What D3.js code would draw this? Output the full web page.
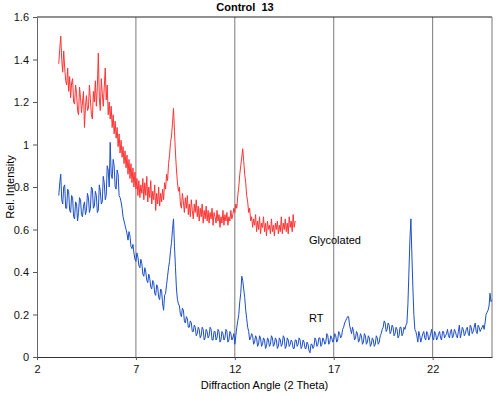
<!DOCTYPE html>
<html>
<head>
<meta charset="utf-8">
<title>Control 13</title>
<script src="https://d3js.org/d3.v7.min.js"></script>
<style>
body { margin:0; background:#fff; }
text { font-family: "Liberation Sans", Arial, sans-serif; }
</style>
</head>
<body>
<script>
// sampling grid of both scans (2 theta), one row below = 0.5 deg
var xStart = 3.1;
var xStep = 0.05;
var xTicks = [2, 7, 12, 17, 22];
var yTicks = [0, 0.2, 0.4, 0.6, 0.8, 1, 1.2, 1.4, 1.6];
var gridLines = [7, 12, 17, 22];

// Glycolated (red), 3.10 .. 15.05
var glycolated = [
 1.38,1.45,1.51,1.40,1.34,1.44,1.36,1.30,1.28,1.36,
 1.25,1.32,1.22,1.29,1.31,1.20,1.19,1.28,1.24,1.16,
 1.14,1.27,1.22,1.15,1.20,1.25,1.08,1.18,1.23,1.16,
 1.17,1.28,1.21,1.14,1.12,1.25,1.20,1.30,1.18,1.27,
 1.43,1.22,1.16,1.31,1.24,1.18,1.27,1.36,1.21,1.28,
 1.14,1.20,1.12,1.18,1.08,1.14,1.05,1.11,1.03,1.08,
 0.99,1.05,0.96,1.02,0.94,0.99,0.91,0.97,0.89,0.95,
 0.86,0.93,0.84,0.91,0.82,0.89,0.80,0.87,0.79,0.84,
 0.76,0.83,0.75,0.81,0.77,0.84,0.74,0.82,0.76,0.85,
 0.73,0.80,0.75,0.83,0.72,0.78,0.74,0.81,0.69,0.77,
 0.72,0.80,0.71,0.77,0.73,0.79,0.74,0.82,0.79,0.86,
 0.83,0.91,0.95,1.01,1.04,1.10,1.17,1.06,0.96,0.88,
 0.82,0.78,0.80,0.72,0.70,0.77,0.73,0.68,0.75,0.70,
 0.76,0.67,0.72,0.66,0.74,0.69,0.65,0.72,0.68,0.74,
 0.66,0.71,0.64,0.70,0.66,0.72,0.63,0.69,0.65,0.71,
 0.64,0.69,0.63,0.68,0.65,0.70,0.62,0.68,0.66,0.63,
 0.69,0.64,0.67,0.61,0.66,0.63,0.69,0.62,0.67,0.64,
 0.68,0.62,0.66,0.64,0.69,0.65,0.67,0.70,0.68,0.72,
 0.70,0.76,0.80,0.86,0.90,0.94,0.98,0.92,0.86,0.82,
 0.76,0.73,0.68,0.70,0.64,0.66,0.61,0.65,0.62,0.67,
 0.59,0.64,0.60,0.66,0.58,0.63,0.61,0.66,0.59,0.63,
 0.57,0.64,0.60,0.62,0.58,0.65,0.59,0.62,0.57,0.63,
 0.60,0.64,0.58,0.62,0.59,0.66,0.58,0.63,0.60,0.65,
 0.59,0.63,0.58,0.66,0.61,0.64,0.59,0.67,0.61,0.64
];

// RT (blue), 3.10 .. 25.00
var rt = [
 0.76,0.82,0.86,0.74,0.72,0.80,0.81,0.70,0.70,0.79,
 0.78,0.69,0.68,0.76,0.75,0.66,0.65,0.73,0.72,0.64,
 0.68,0.75,0.74,0.67,0.66,0.71,0.73,0.67,0.69,0.77,
 0.75,0.68,0.70,0.80,0.79,0.70,0.71,0.78,0.76,0.68,
 0.69,0.81,0.78,0.72,0.73,0.85,0.82,0.74,0.76,0.90,
 0.88,0.80,1.01,0.86,0.84,0.93,0.90,0.80,0.79,0.88,
 0.86,0.76,0.75,0.73,0.70,0.66,0.64,0.62,0.60,0.58,
 0.55,0.59,0.57,0.52,0.51,0.53,0.49,0.46,0.45,0.49,
 0.47,0.43,0.42,0.46,0.44,0.39,0.38,0.42,0.40,0.36,
 0.35,0.39,0.37,0.33,0.32,0.36,0.35,0.30,0.29,0.34,
 0.33,0.28,0.27,0.32,0.31,0.25,0.22,0.29,0.30,0.34,
 0.38,0.42,0.45,0.50,0.54,0.60,0.65,0.52,0.42,0.32,
 0.27,0.25,0.24,0.20,0.19,0.23,0.22,0.17,0.16,0.19,
 0.18,0.14,0.14,0.17,0.16,0.12,0.12,0.15,0.14,0.10,
 0.11,0.14,0.13,0.09,0.10,0.14,0.13,0.08,0.09,0.13,
 0.12,0.09,0.10,0.14,0.13,0.08,0.08,0.12,0.12,0.08,
 0.09,0.13,0.12,0.07,0.08,0.12,0.11,0.08,0.09,0.13,
 0.12,0.07,0.08,0.12,0.11,0.08,0.09,0.11,0.06,0.10,
 0.14,0.17,0.20,0.26,0.30,0.38,0.36,0.32,0.28,0.22,
 0.18,0.14,0.12,0.08,0.09,0.11,0.10,0.06,0.07,0.10,
 0.09,0.05,0.06,0.10,0.09,0.05,0.06,0.09,0.08,0.04,
 0.05,0.09,0.08,0.05,0.06,0.10,0.09,0.05,0.06,0.09,
 0.08,0.04,0.05,0.09,0.08,0.05,0.06,0.10,0.09,0.04,
 0.05,0.09,0.08,0.05,0.06,0.08,0.07,0.04,0.04,0.08,
 0.08,0.05,0.06,0.09,0.08,0.04,0.05,0.08,0.07,0.04,
 0.04,0.07,0.06,0.03,0.02,0.06,0.06,0.04,0.05,0.09,
 0.08,0.05,0.06,0.09,0.09,0.05,0.06,0.09,0.08,0.06,
 0.07,0.11,0.10,0.06,0.07,0.10,0.09,0.07,0.08,0.11,
 0.10,0.07,0.08,0.12,0.11,0.09,0.10,0.13,0.14,0.16,
 0.17,0.18,0.19,0.19,0.15,0.13,0.11,0.14,0.12,0.08,
 0.09,0.12,0.11,0.07,0.08,0.11,0.10,0.06,0.07,0.11,
 0.10,0.06,0.07,0.10,0.09,0.05,0.06,0.09,0.08,0.05,
 0.06,0.10,0.09,0.06,0.07,0.10,0.11,0.13,0.14,0.17,
 0.16,0.12,0.13,0.16,0.15,0.11,0.12,0.15,0.14,0.10,
 0.11,0.14,0.13,0.09,0.10,0.14,0.14,0.10,0.11,0.14,
 0.13,0.15,0.16,0.25,0.40,0.55,0.65,0.48,0.33,0.20,
 0.13,0.12,0.10,0.07,0.12,0.10,0.07,0.09,0.11,0.12,
 0.09,0.08,0.12,0.11,0.08,0.09,0.11,0.13,0.09,0.08,
 0.12,0.11,0.08,0.09,0.11,0.12,0.09,0.08,0.12,0.12,
 0.09,0.10,0.11,0.13,0.10,0.09,0.12,0.13,0.09,0.10,
 0.13,0.12,0.10,0.09,0.12,0.15,0.09,0.11,0.14,0.13,
 0.10,0.11,0.13,0.14,0.11,0.10,0.15,0.14,0.11,0.12,
 0.14,0.16,0.12,0.11,0.15,0.14,0.12,0.13,0.14,0.15,
 0.13,0.16,0.20,0.21,0.22,0.24,0.30,0.26,0.27
];

var width = 500, height = 396;
var margin = {top:17, right:8, bottom:39, left:37};
var w = width - margin.left - margin.right;
var h = height - margin.top - margin.bottom;

var svg = d3.select('body').append('svg').attr('width', width).attr('height', height);
var g = svg.append('g').attr('transform', 'translate(' + margin.left + ',' + margin.top + ')');

var x = d3.scaleLinear().domain([2, 25]).range([0, w]);
var y = d3.scaleLinear().domain([0, 1.6]).range([h, 0]);

// vertical grid lines
g.selectAll('.grid').data(gridLines).enter().append('line')
  .attr('x1', d => x(d)).attr('x2', d => x(d))
  .attr('y1', 0).attr('y2', h)
  .attr('stroke', '#7a7a7a').attr('stroke-width', 1);

var line = d3.line()
  .x((d, i) => x(xStart + i * xStep))
  .y(d => y(d));

g.append('path').datum(glycolated).attr('d', line)
  .attr('fill', 'none').attr('stroke', '#ff3434').attr('stroke-width', 1);
g.append('path').datum(rt).attr('d', line)
  .attr('fill', 'none').attr('stroke', '#1c4fc8').attr('stroke-width', 1);

// frame
g.append('line').attr('x1', 0).attr('x2', w).attr('y1', 0).attr('y2', 0).attr('stroke', '#222');
g.append('line').attr('x1', w).attr('x2', w).attr('y1', 0).attr('y2', h).attr('stroke', '#777');

var xAxis = g.append('g').attr('transform', 'translate(0,' + h + ')')
  .call(d3.axisBottom(x).tickValues(xTicks).tickSize(3).tickSizeOuter(0).tickFormat(d3.format('d')));
var yAxis = g.append('g')
  .call(d3.axisLeft(y).tickValues(yTicks).tickSize(4).tickSizeOuter(0).tickFormat(d => String(d)));

[xAxis, yAxis].forEach(function(a) {
  a.selectAll('text').attr('font-size', 11).attr('fill', '#111').style('font-family', '"Liberation Sans", Arial, sans-serif');
  a.selectAll('line').attr('stroke', '#555');
});
xAxis.select('.domain').attr('stroke', '#333');
yAxis.select('.domain').attr('stroke', '#666');
xAxis.selectAll('text').attr('dy', '0.95em');
yAxis.selectAll('text').attr('dx', '-1');

// series labels
g.append('text').attr('x', x(15.75)).attr('y', y(0.53)).attr('font-size', 11).text('Glycolated');
g.append('text').attr('x', x(15.75)).attr('y', y(0.163)).attr('font-size', 11).text('RT');

// titles
svg.append('text').attr('x', 245).attr('y', 11).attr('text-anchor', 'middle')
  .attr('font-size', 11).attr('font-weight', 'bold').style('white-space', 'pre').text('Control  13');
svg.append('text').attr('x', margin.left + w / 2).attr('y', 389).attr('text-anchor', 'middle')
  .attr('font-size', 11).text('Diffraction Angle (2 Theta)');
svg.append('text').attr('transform', 'translate(14,' + (margin.top + h / 2) + ') rotate(-90)')
  .attr('text-anchor', 'middle').attr('font-size', 11).text('Rel. Intensity');
</script>
</body>
</html>
